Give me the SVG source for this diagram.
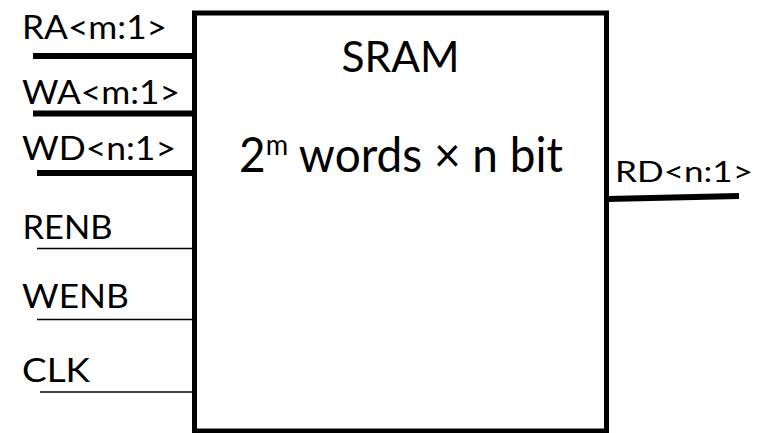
<svg xmlns="http://www.w3.org/2000/svg" width="761" height="433" viewBox="0 0 761 433">
  <style>
    text { font-family: Lato, "Noto Sans", "Liberation Sans", sans-serif; fill: #000; }
    .pin { font-size: 33px; }
    .bus { stroke: #000; stroke-width: 6; stroke-linecap: butt; fill: none; }
    .sig { stroke: #000; stroke-width: 1.6; fill: none; }
  </style>
  <rect width="761" height="433" fill="#fff"/>

  <g id="sram">
    <rect x="194.5" y="13" width="412" height="418" fill="#fff" stroke="#000" stroke-width="5"/>
    <text x="341.5" y="71.5" font-size="42" textLength="118" lengthAdjust="spacingAndGlyphs">SRAM</text>
    <text x="239" y="171.5" font-size="49" textLength="324" lengthAdjust="spacingAndGlyphs">2<tspan font-size="29" dy="-17">m</tspan><tspan dy="17"> words × n bit</tspan></text>
  </g>

  <g id="connectors">
    <line class="bus" x1="33" y1="56" x2="194" y2="56"/>
    <line class="bus" x1="33" y1="113.5" x2="194" y2="113.5"/>
    <line class="bus" x1="37" y1="173" x2="194" y2="173"/>
    <line class="sig" x1="37" y1="248.5" x2="194" y2="248.5"/>
    <line class="sig" x1="37" y1="319.5" x2="194" y2="319.5"/>
    <line class="sig" x1="40" y1="392" x2="194" y2="392"/>
    <line class="bus" x1="607" y1="199" x2="739" y2="196"/>
  </g>

  <g id="pin-RA"><text class="pin" x="22" y="38.5" textLength="145" lengthAdjust="spacingAndGlyphs">RA&lt;m:1&gt;</text></g>
  <g id="pin-WA"><text class="pin" x="22" y="103.5" textLength="158" lengthAdjust="spacingAndGlyphs">WA&lt;m:1&gt;</text></g>
  <g id="pin-WD"><text class="pin" x="22" y="159.5" textLength="154" lengthAdjust="spacingAndGlyphs">WD&lt;n:1&gt;</text></g>
  <g id="pin-RENB"><text class="pin" x="22.5" y="238.5" textLength="90" lengthAdjust="spacingAndGlyphs">RENB</text></g>
  <g id="pin-WENB"><text class="pin" x="22" y="307.5" textLength="107" lengthAdjust="spacingAndGlyphs">WENB</text></g>
  <g id="pin-CLK"><text class="pin" x="22" y="381.5" textLength="68" lengthAdjust="spacingAndGlyphs">CLK</text></g>
  <g id="pin-RD"><text x="615" y="182" font-size="29" textLength="138" lengthAdjust="spacingAndGlyphs">RD&lt;n:1&gt;</text></g>
</svg>
